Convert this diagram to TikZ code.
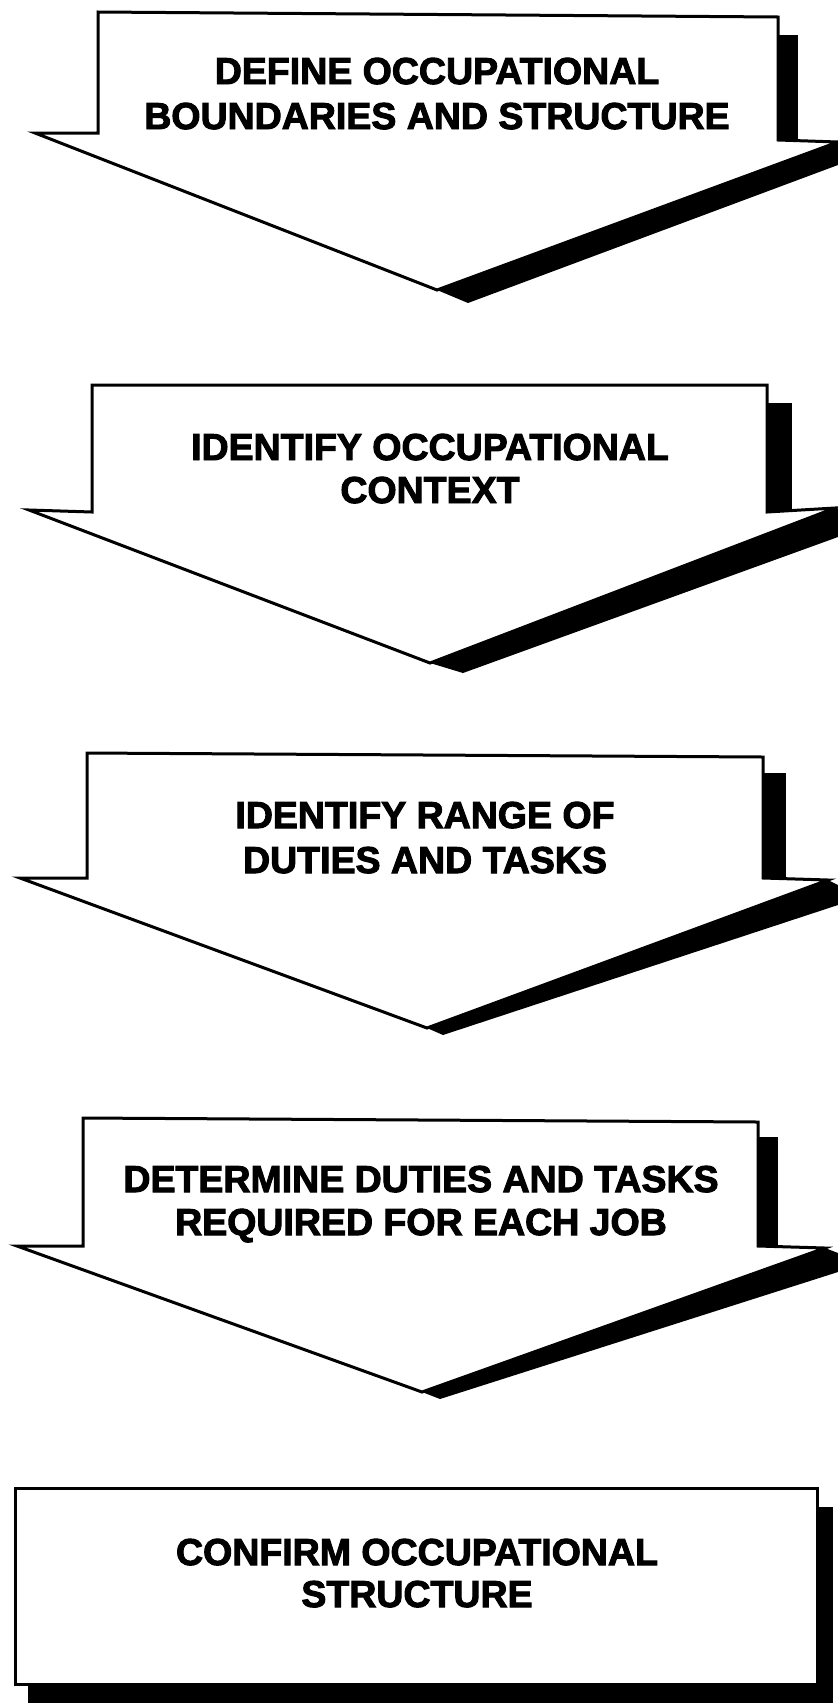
\documentclass[tikz,border=0pt]{standalone}
\usepackage{fontspec}
\newfontfamily\lab[FakeBold=2.6]{Liberation Sans Bold}
\begin{document}
\begin{tikzpicture}[x=1pt,y=-1pt,
  arrowbody/.style={draw=black,fill=white,line width=3pt,line join=miter},
  shade/.style={fill=black,draw=none},
  steptext/.style={font=\lab\fontsize{37.5}{44}\selectfont,anchor=base,inner sep=0pt,text=black}]
\useasboundingbox (0,0) rectangle (838,1703);
\fill[white] (0,0) rectangle (838,1703);

% ---------- Arrow 1 ----------
\fill[shade] (776,35) rectangle (798,140);
\fill[shade] (437,290) -- (838,142) -- (838,165) -- (468,303) -- cycle;
\draw[arrowbody] (98,12) -- (778,17) -- (778,140) -- (838,142) -- (437,290) -- (35,133) -- (98,133) -- cycle;
\node[steptext] (t1a) at (437,84) {DEFINE OCCUPATIONAL};
\node[steptext] (t1b) at (437,129) {BOUNDARIES AND STRUCTURE};

% ---------- Arrow 2 ----------
\fill[shade] (765,403) rectangle (792,512);
\fill[shade] (430,663) -- (835,508) -- (838,509) -- (838,537) -- (463,673) -- cycle;
\draw[arrowbody] (92,385) -- (767,385) -- (767,512) -- (835,508) -- (430,663) -- (29,510) -- (92,512) -- cycle;
\node[steptext] (t2a) at (430,460) {IDENTIFY OCCUPATIONAL};
\node[steptext] (t2b) at (430,503) {CONTEXT};

% ---------- Arrow 3 ----------
\fill[shade] (761,773) rectangle (786,878);
\fill[shade] (427,1028) -- (828,880) -- (838,885) -- (838,905) -- (443,1035) -- cycle;
\draw[arrowbody] (87,753) -- (763,757) -- (763,878) -- (828,880) -- (427,1028) -- (20,878) -- (87,878) -- cycle;
\node[steptext] (t3a) at (425,828) {IDENTIFY RANGE OF};
\node[steptext] (t3b) at (425,873) {DUTIES AND TASKS};

% ---------- Arrow 4 ----------
\fill[shade] (756,1137) rectangle (778,1246);
\fill[shade] (422,1392) -- (825,1248) -- (838,1253) -- (838,1272) -- (440,1399) -- cycle;
\draw[arrowbody] (83,1118) -- (758,1122) -- (758,1246) -- (825,1248) -- (422,1392) -- (17,1246) -- (83,1246) -- cycle;
\node[steptext] (t4a) at (421,1192) {DETERMINE DUTIES AND TASKS};
\node[steptext] (t4b) at (421,1235) {REQUIRED FOR EACH JOB};

% ---------- Box 5 ----------
\fill[shade] (815,1507) rectangle (833,1703);
\fill[shade] (28,1682) rectangle (833,1703);
\draw[arrowbody] (15,1488) rectangle (817,1684);
\node[steptext] (t5a) at (417,1565) {CONFIRM OCCUPATIONAL};
\node[steptext] (t5b) at (417,1607) {STRUCTURE};
\end{tikzpicture}
\end{document}
